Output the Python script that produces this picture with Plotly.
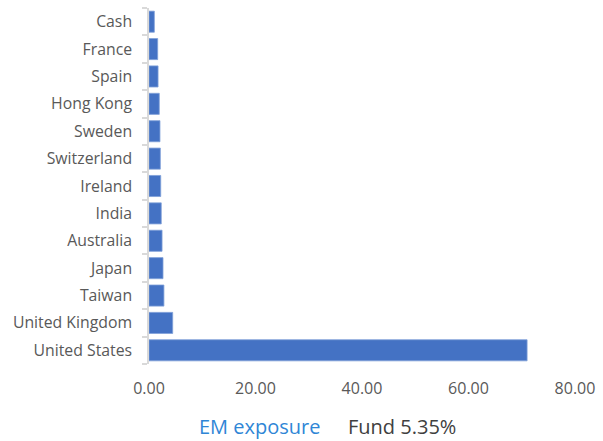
import plotly.graph_objects as go

countries = ["United States", "United Kingdom", "Taiwan", "Japan", "Australia", "India",
             "Ireland", "Switzerland", "Sweden", "Hong Kong", "Spain", "France", "Cash"]
weights = [71.0, 4.45, 2.8, 2.63, 2.45, 2.3, 2.2, 2.13, 2.06, 1.93, 1.7, 1.63, 1.0]
x_ticks = [0, 20, 40, 60, 80]

fig = go.Figure(go.Bar(
    x=weights, y=countries, orientation="h",
    marker=dict(color="#4472C4", line=dict(color="#7f9fd8", width=0.8)),
    hoverinfo="x+y",
))

fig.update_layout(
    width=603, height=441,
    margin=dict(l=149, r=28, t=8, b=77),
    paper_bgcolor="white", plot_bgcolor="white",
    font=dict(family="Open Sans, sans-serif", size=15.5, color="#595959"),
    bargap=0.23,
    showlegend=False,
    xaxis=dict(range=[0, 80], tickvals=x_ticks, tickformat=".2f", showgrid=False,
               zeroline=False, showline=False, ticks="", ticklabelstandoff=13,
               tickfont=dict(size=16, color="#595959")),
    yaxis=dict(type="category", categoryorder="array", categoryarray=countries,
               showline=True, linecolor="#d9d9d9", linewidth=1.5, ticks="outside",
               tickson="boundaries", ticklen=5, tickcolor="#d9d9d9", tickwidth=1.5,
               ticklabelstandoff=12,
               showgrid=False, zeroline=False, tickfont=dict(size=15.8, color="#595959")),
    annotations=[
        dict(text="EM exposure", x=0.259, y=-0.175, xref="paper", yref="paper", xanchor="center",
             yanchor="middle", showarrow=False, font=dict(size=20, color="#2f86d6")),
        dict(text="Fund 5.35%", x=0.594, y=-0.175, xref="paper", yref="paper", xanchor="center",
             yanchor="middle", showarrow=False, font=dict(size=20, color="#404040")),
    ],
)

fig.write_html("out.html")
